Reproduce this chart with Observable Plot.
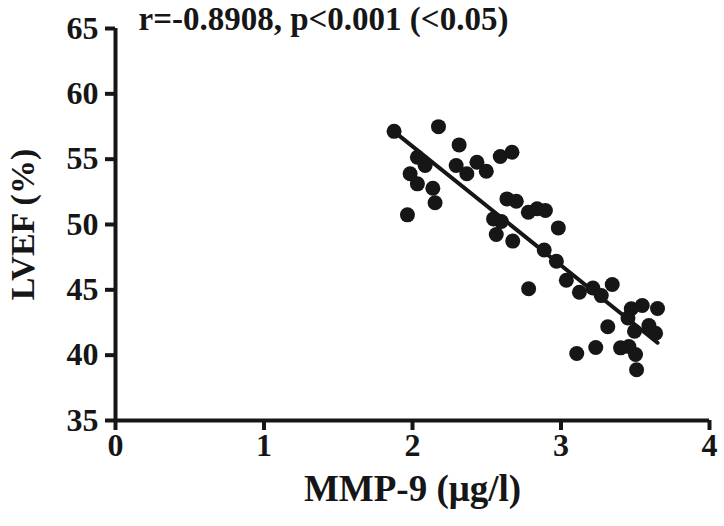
<!DOCTYPE html>
<html>
<head>
<meta charset="utf-8">
<script src="https://cdn.jsdelivr.net/npm/d3@7"></script>
<script src="https://cdn.jsdelivr.net/npm/@observablehq/plot@0.6"></script>
<style>
  html, body { margin: 0; padding: 0; background: #fff; }
  #chart { width: 724px; height: 526px; }
  #chart g[aria-label$="tick label"], #chart g[aria-label$="tick label"] text { font-size: 32px !important; font-weight: bold; }
</style>
</head>
<body>
<div id="chart"></div>
<script>
const mmp9 = [1.876, 2.175, 2.314, 2.033, 2.085, 1.984, 2.033, 2.137, 2.152, 1.966,
  2.294, 2.366, 2.434, 2.497, 2.591, 2.670, 2.636, 2.699, 2.780, 2.839,
  2.895, 2.546, 2.598, 2.564, 2.675, 2.982, 2.887, 2.969, 2.782, 3.036,
  3.124, 3.215, 3.271, 3.345, 3.473, 3.547, 3.650, 3.451, 3.315, 3.495,
  3.592, 3.637, 3.106, 3.234, 3.401, 3.457, 3.502, 3.509];
const lvef = [57.13, 57.49, 56.09, 55.15, 54.51, 53.88, 53.11, 52.77, 51.66, 50.74,
  54.51, 53.88, 54.76, 54.07, 55.20, 55.53, 51.96, 51.78, 50.94, 51.20,
  51.07, 50.43, 50.23, 49.23, 48.73, 49.74, 48.05, 47.19, 45.08, 45.73,
  44.82, 45.14, 44.56, 45.41, 43.55, 43.80, 43.57, 42.84, 42.17, 41.83,
  42.27, 41.68, 40.13, 40.59, 40.56, 40.66, 40.05, 38.88];
const xTicks = [0, 1, 2, 3, 4];
const yTicks = [35, 40, 45, 50, 55, 60, 65];
const xLabel = "MMP-9 (μg/l)";
const yLabel = "LVEF (%)";
const annotation = ["r=-0.8908, p<0.001 (<0.05)"];

const points = mmp9.map((x, i) => ({x, y: lvef[i]}));
const ink = "#161616";

const chart = Plot.plot({
  width: 724,
  height: 526,
  marginLeft: 115,
  marginRight: 15,
  marginTop: 28,
  marginBottom: 106,
  style: {fontFamily: "'Liberation Serif', 'Times New Roman', serif", fontWeight: "bold", fontSize: "32px", color: ink, background: "#fff"},
  x: {domain: [0, 4]},
  y: {domain: [35, 65]},
  marks: [
    Plot.axisX({ticks: xTicks, tickSize: 10, tickPadding: 3, strokeWidth: 4, fontSize: 32, label: null, tickFormat: d => String(d)}),
    Plot.axisY({ticks: yTicks, tickSize: 10, tickPadding: 7, strokeWidth: 4, fontSize: 32, label: null, tickFormat: d => String(d)}),
    Plot.ruleY([35], {stroke: ink, strokeWidth: 4}),
    Plot.ruleX([0], {stroke: ink, strokeWidth: 4}),
    Plot.text([xLabel], {frameAnchor: "bottom", dy: 80, fontSize: 37, fill: ink}),
    Plot.text([yLabel], {frameAnchor: "left", dx: -92, rotate: -90, textAnchor: "middle", fontSize: 34, fill: ink}),
    Plot.text(annotation, {frameAnchor: "top-left", dx: 23, dy: -22, textAnchor: "start", fontSize: 33, fill: ink}),
    Plot.linearRegressionY(points, {x: "x", y: "y", ci: 0, stroke: ink, strokeWidth: 4}),
    Plot.dot(points, {x: "x", y: "y", r: 7.5, fill: ink, stroke: "none"})
  ]
});
document.getElementById("chart").appendChild(chart);
</script>
</body>
</html>
